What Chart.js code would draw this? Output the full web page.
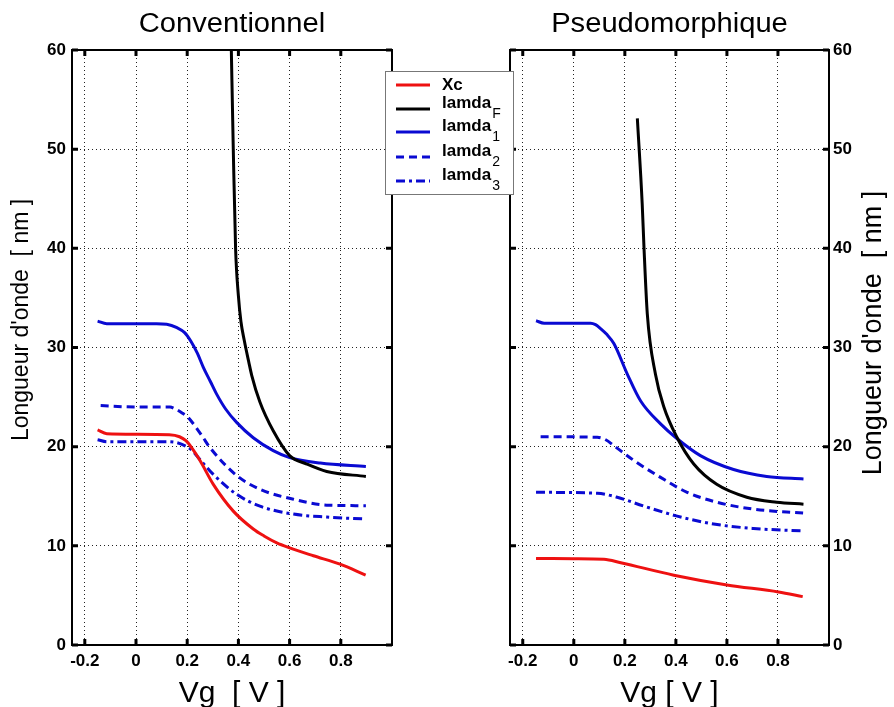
<!DOCTYPE html>
<html>
<head>
<meta charset="utf-8">
<script src="https://cdn.jsdelivr.net/npm/chart.js@4/dist/chart.umd.min.js"></script>
<style>
  html, body { margin: 0; padding: 0; background: #fff; }
  #wrap { position: relative; width: 894px; height: 707px; }
  #wrap canvas { position: absolute; left: 0; top: 0; }
</style>
</head>
<body>
<div id="wrap">
  <canvas id="conv" width="894" height="707"></canvas>
  <canvas id="pseudo" width="894" height="707"></canvas>
</div>
<script>
// Tick values
const vgTicks = [-0.2, 0, 0.2, 0.4, 0.6, 0.8];
const yTicks = [0, 10, 20, 30, 40, 50, 60];

// Conventionnel
const convXcV = [-0.15, -0.114, 0, 0.13, 0.17, 0.195, 0.22, 0.25, 0.302, 0.38, 0.458, 0.5, 0.55, 0.6, 0.693, 0.797, 0.897];
const convXc = [21.7, 21.3, 21.25, 21.2, 21.0, 20.6, 19.8, 18.6, 16.2, 13.5, 11.7, 11.0, 10.3, 9.8, 9.0, 8.15, 7.05];
const convFV = [0.372, 0.38, 0.389, 0.4, 0.41, 0.423, 0.44, 0.452, 0.484, 0.536, 0.6, 0.667, 0.745, 0.898];
const convF = [60.5, 50, 40, 35.2, 32.6, 30.7, 28.6, 27.2, 24.5, 21.6, 19.1, 18.25, 17.5, 17.0];
const conv1V = [-0.15, -0.114, 0.08, 0.12, 0.16, 0.19, 0.215, 0.24, 0.263, 0.29, 0.315, 0.35, 0.393, 0.458, 0.536, 0.6, 0.72, 0.898];
const conv1 = [32.66, 32.4, 32.4, 32.35, 32.0, 31.5, 30.6, 29.4, 28.0, 26.6, 25.3, 23.8, 22.45, 20.9, 19.6, 18.9, 18.35, 18.0];
const conv2V = [-0.138, 0, 0.133, 0.15, 0.18, 0.205, 0.23, 0.26, 0.289, 0.393, 0.484, 0.615, 0.745, 0.898];
const conv2 = [24.14, 24.0, 24.0, 23.85, 23.4, 22.9, 22.1, 21.0, 19.9, 17.1, 15.7, 14.7, 14.1, 14.05];
const conv3V = [-0.15, -0.114, 0.12, 0.16, 0.198, 0.22, 0.25, 0.302, 0.393, 0.484, 0.615, 0.745, 0.898];
const conv3 = [20.7, 20.5, 20.5, 20.4, 20.0, 19.6, 18.7, 17.2, 15.2, 14.0, 13.2, 12.9, 12.7];

// Pseudomorphique
const pseuXcV = [-0.148, 0, 0.118, 0.184, 0.392, 0.6, 0.802, 0.897];
const pseuXc = [8.72, 8.7, 8.65, 8.3, 7.04, 6.06, 5.35, 4.88];
const pseuFV = [0.249, 0.268, 0.275, 0.288, 0.32, 0.353, 0.405, 0.47, 0.56, 0.678, 0.795, 0.9];
const pseuF = [53.1, 44.5, 40.1, 33.4, 27.3, 24.0, 20.9, 18.25, 16.2, 14.9, 14.4, 14.2];
const pseu1V = [-0.148, -0.116, 0.066, 0.085, 0.105, 0.13, 0.157, 0.21, 0.262, 0.34, 0.405, 0.496, 0.626, 0.756, 0.9];
const pseu1 = [32.7, 32.45, 32.45, 32.3, 31.9, 31.3, 30.4, 27.3, 24.6, 22.3, 20.8, 19.1, 17.7, 17.0, 16.75];
const pseu2V = [-0.13, 0.092, 0.125, 0.157, 0.236, 0.34, 0.444, 0.56, 0.704, 0.9];
const pseu2 = [21.0, 20.95, 20.7, 20.1, 18.6, 16.9, 15.4, 14.4, 13.7, 13.3];
const pseu3V = [-0.148, 0.092, 0.17, 0.275, 0.405, 0.548, 0.704, 0.9];
const pseu3 = [15.4, 15.3, 14.9, 14.0, 13.0, 12.2, 11.75, 11.5];

const legendNames = ['Xc', 'lamda', 'lamda', 'lamda', 'lamda'];
const legendSubs = ['', 'F', '1', '2', '3'];

const RED = '#ee1111', BLACK = '#000000', BLUE = '#0a0ad2';
const styles = [
  { color: RED, dash: [] },
  { color: BLACK, dash: [] },
  { color: BLUE, dash: [] },
  { color: BLUE, dash: [8, 5] },
  { color: BLUE, dash: [9, 4, 3, 4] }
];

const FONT = '"Liberation Sans", Arial, Helvetica, sans-serif';

function pts(xs, ys) {
  return xs.map((x, i) => ({ x: x, y: ys[i] }));
}

function makeDatasets(series) {
  return series.map((s, i) => ({
    label: legendNames[i] + legendSubs[i],
    data: pts(s[0], s[1]),
    borderColor: styles[i].color,
    borderDash: styles[i].dash,
    borderWidth: 3,
    pointRadius: 0,
    fill: false,
    cubicInterpolationMode: 'monotone'
  }));
}

function fmt(v) {
  if (Math.abs(v) < 1e-9) return '0';
  return String(+v.toFixed(1));
}

const tickFont = { family: FONT, size: 17, weight: 'bold' };

function xScale() {
  return {
    type: 'linear', min: -0.25, max: 1.0,
    afterBuildTicks: s => { s.ticks = vgTicks.map(v => ({ value: v })); },
    afterFit: s => { s.height = 62; },
    grid: { color: '#222', lineWidth: 1, drawTicks: false },
    border: { display: false, dash: [1, 3] },
    ticks: { padding: 6, color: '#000', font: tickFont, callback: v => fmt(v), maxRotation: 0 }
  };
}

function yScale(pos, width, pad) {
  return {
    type: 'linear', min: 0, max: 60, position: pos,
    afterBuildTicks: s => { s.ticks = yTicks.map(v => ({ value: v })); },
    afterFit: s => { s.width = width; },
    grid: { color: '#222', lineWidth: 1, drawTicks: false },
    border: { display: false, dash: [1, 3] },
    ticks: { padding: pad, color: '#000', font: tickFont }
  };
}

// box round the plot and short inward ticks on all four sides
const frame = {
  id: 'frame',
  afterDraw(chart) {
    const { ctx, chartArea: a, scales } = chart;
    ctx.save();
    ctx.strokeStyle = '#000';
    ctx.lineWidth = 3;
    ctx.beginPath();
    vgTicks.forEach(v => {
      const px = scales.x.getPixelForValue(v);
      ctx.moveTo(px, a.bottom); ctx.lineTo(px, a.bottom - 6);
      ctx.moveTo(px, a.top); ctx.lineTo(px, a.top + 6);
    });
    yTicks.forEach(v => {
      const py = scales.y.getPixelForValue(v);
      ctx.moveTo(a.left, py); ctx.lineTo(a.left + 6, py);
      ctx.moveTo(a.right, py); ctx.lineTo(a.right - 6, py);
    });
    ctx.stroke();
    ctx.lineWidth = 2;
    ctx.strokeRect(a.left, a.top, a.right - a.left, a.bottom - a.top);
    ctx.restore();
  }
};

function stretchedText(ctx, text, x, y, font, sx) {
  ctx.save();
  ctx.translate(x, y);
  ctx.scale(sx, 1);
  ctx.font = font;
  ctx.fillText(text, 0, 0);
  ctx.restore();
}

function textPlugin(cfg) {
  return {
    id: 'panelText',
    afterDraw(chart) {
      const { ctx, chartArea: a } = chart;
      const cx = (a.left + a.right) / 2;
      ctx.save();
      ctx.fillStyle = '#000';
      ctx.textAlign = 'center';
      ctx.textBaseline = 'alphabetic';
      stretchedText(ctx, cfg.title, cx, 32, '27px ' + FONT, 1.08);
      stretchedText(ctx, cfg.xTitle, cx, 702, '30px ' + FONT, 1.0);
      ctx.textBaseline = 'middle';
      ctx.translate(cfg.yx, cfg.yy);
      ctx.rotate(-Math.PI / 2);
      ctx.font = cfg.ySize + 'px ' + FONT;
      ctx.fillText("Longueur d'onde  [ nm ]", 0, 0);
      ctx.restore();
    }
  };
}

const legendBox = {
  id: 'legendBox',
  afterDraw(chart) {
    const ctx = chart.ctx;
    const rows = [85, 109, 132, 157, 181];
    ctx.save();
    ctx.fillStyle = '#fff';
    ctx.fillRect(385, 71, 129, 124);
    ctx.strokeStyle = '#777';
    ctx.lineWidth = 1;
    ctx.strokeRect(385.5, 71.5, 128, 123);
    rows.forEach((y, i) => {
      ctx.strokeStyle = styles[i].color;
      ctx.setLineDash(styles[i].dash);
      ctx.lineWidth = 3;
      ctx.beginPath();
      ctx.moveTo(396, y); ctx.lineTo(430, y);
      ctx.stroke();
      ctx.setLineDash([]);
      ctx.fillStyle = '#000';
      ctx.textAlign = 'left';
      ctx.textBaseline = 'alphabetic';
      ctx.font = 'bold 17px ' + FONT;
      const base = i === 0 ? y + 5 : y - 1;
      ctx.fillText(legendNames[i], 442, base);
      if (legendSubs[i]) {
        const w = ctx.measureText(legendNames[i]).width;
        ctx.font = '14px ' + FONT;
        ctx.fillText(legendSubs[i], 442 + w + 1, y + 9);
      }
    });
    ctx.restore();
  }
};

function makeChart(id, series, yPos, yWidth, yPad, padding, plugins) {
  return new Chart(document.getElementById(id), {
    type: 'line',
    data: { datasets: makeDatasets(series) },
    options: {
      responsive: false,
      animation: false,
      events: [],
      layout: { padding: padding },
      plugins: { legend: { display: false }, tooltip: { enabled: false }, title: { display: false } },
      scales: { x: xScale(), y: yScale(yPos, yWidth, yPad) }
    },
    plugins: plugins
  });
}

makeChart('conv', [
  [convXcV, convXc], [convFV, convF], [conv1V, conv1], [conv2V, conv2], [conv3V, conv3]
], 'left', 72, 6, { left: 0, right: 502, top: 50, bottom: 0 },
  [frame, textPlugin({ title: 'Conventionnel', xTitle: 'Vg  [ V ]', yx: 22, yy: 320, ySize: 23 })]);

makeChart('pseudo', [
  [pseuXcV, pseuXc], [pseuFV, pseuF], [pseu1V, pseu1], [pseu2V, pseu2], [pseu3V, pseu3]
], 'right', 65, 4, { left: 510, right: 0, top: 50, bottom: 0 },
  [frame, textPlugin({ title: 'Pseudomorphique', xTitle: 'Vg [ V ]', yx: 874, yy: 333, ySize: 27 }), legendBox]);
</script>
</body>
</html>
